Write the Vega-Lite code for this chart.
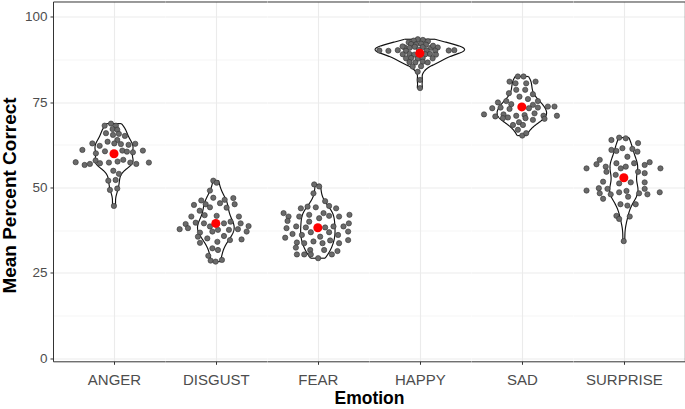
{
  "$schema": "https://vega.github.io/schema/vega-lite/v6.json",
  "autosize": {"type": "pad"},
  "padding": {"left": 0, "top": 1.5, "right": 0, "bottom": 0},
  "background": "white",
  "data": {"values": [
    {"emotion":"ANGER","score":68.1,"jitter":-0.092},{"emotion":"ANGER","score":68.7,"jitter":-0.030},{"emotion":"ANGER","score":68.1,"jitter":0.019},{"emotion":"ANGER","score":67.1,"jitter":-0.014},{"emotion":"ANGER","score":66.9,"jitter":0.032},{"emotion":"ANGER","score":65.9,"jitter":-0.079},{"emotion":"ANGER","score":65.4,"jitter":-0.010},{"emotion":"ANGER","score":65.7,"jitter":0.048},{"emotion":"ANGER","score":65.1,"jitter":0.107},{"emotion":"ANGER","score":63.9,"jitter":0.032},{"emotion":"ANGER","score":62.9,"jitter":-0.213},{"emotion":"ANGER","score":62.2,"jitter":-0.141},{"emotion":"ANGER","score":63.4,"jitter":-0.063},{"emotion":"ANGER","score":62.9,"jitter":0.003},{"emotion":"ANGER","score":62.7,"jitter":0.068},{"emotion":"ANGER","score":62.5,"jitter":0.143},{"emotion":"ANGER","score":62.8,"jitter":0.209},{"emotion":"ANGER","score":61.0,"jitter":-0.311},{"emotion":"ANGER","score":60.0,"jitter":-0.178},{"emotion":"ANGER","score":60.6,"jitter":-0.089},{"emotion":"ANGER","score":60.8,"jitter":0.082},{"emotion":"ANGER","score":60.5,"jitter":0.127},{"emotion":"ANGER","score":60.3,"jitter":0.186},{"emotion":"ANGER","score":60.8,"jitter":0.284},{"emotion":"ANGER","score":57.4,"jitter":-0.377},{"emotion":"ANGER","score":56.6,"jitter":-0.289},{"emotion":"ANGER","score":56.9,"jitter":-0.237},{"emotion":"ANGER","score":57.9,"jitter":-0.181},{"emotion":"ANGER","score":57.1,"jitter":-0.138},{"emotion":"ANGER","score":57.3,"jitter":-0.050},{"emotion":"ANGER","score":57.6,"jitter":0.035},{"emotion":"ANGER","score":58.1,"jitter":0.091},{"emotion":"ANGER","score":57.3,"jitter":0.160},{"emotion":"ANGER","score":56.9,"jitter":0.219},{"emotion":"ANGER","score":57.3,"jitter":0.343},{"emotion":"ANGER","score":54.9,"jitter":-0.007},{"emotion":"ANGER","score":54.0,"jitter":0.048},{"emotion":"ANGER","score":52.0,"jitter":-0.056},{"emotion":"ANGER","score":52.2,"jitter":0.016},{"emotion":"ANGER","score":49.3,"jitter":-0.040},{"emotion":"ANGER","score":49.7,"jitter":0.032},{"emotion":"ANGER","score":44.6,"jitter":-0.001},
    {"emotion":"DISGUST","score":52.0,"jitter":-0.025},{"emotion":"DISGUST","score":51.4,"jitter":0.008},{"emotion":"DISGUST","score":49.1,"jitter":-0.058},{"emotion":"DISGUST","score":44.9,"jitter":-0.215},{"emotion":"DISGUST","score":46.2,"jitter":-0.143},{"emotion":"DISGUST","score":45.1,"jitter":-0.100},{"emotion":"DISGUST","score":47.0,"jitter":-0.025},{"emotion":"DISGUST","score":45.4,"jitter":0.041},{"emotion":"DISGUST","score":46.4,"jitter":0.087},{"emotion":"DISGUST","score":46.9,"jitter":0.172},{"emotion":"DISGUST","score":45.1,"jitter":0.185},{"emotion":"DISGUST","score":44.2,"jitter":-0.058},{"emotion":"DISGUST","score":44.1,"jitter":0.106},{"emotion":"DISGUST","score":43.2,"jitter":-0.159},{"emotion":"DISGUST","score":41.9,"jitter":-0.110},{"emotion":"DISGUST","score":41.7,"jitter":0.008},{"emotion":"DISGUST","score":41.5,"jitter":-0.241},{"emotion":"DISGUST","score":41.5,"jitter":0.227},{"emotion":"DISGUST","score":39.3,"jitter":-0.297},{"emotion":"DISGUST","score":39.7,"jitter":-0.198},{"emotion":"DISGUST","score":39.5,"jitter":-0.117},{"emotion":"DISGUST","score":38.6,"jitter":-0.058},{"emotion":"DISGUST","score":39.5,"jitter":0.080},{"emotion":"DISGUST","score":40.0,"jitter":0.145},{"emotion":"DISGUST","score":39.5,"jitter":0.244},{"emotion":"DISGUST","score":38.7,"jitter":0.322},{"emotion":"DISGUST","score":37.8,"jitter":-0.356},{"emotion":"DISGUST","score":38.1,"jitter":-0.274},{"emotion":"DISGUST","score":36.8,"jitter":-0.156},{"emotion":"DISGUST","score":37.1,"jitter":-0.034},{"emotion":"DISGUST","score":37.6,"jitter":0.021},{"emotion":"DISGUST","score":37.6,"jitter":0.129},{"emotion":"DISGUST","score":37.8,"jitter":0.217},{"emotion":"DISGUST","score":37.1,"jitter":0.303},{"emotion":"DISGUST","score":35.6,"jitter":-0.176},{"emotion":"DISGUST","score":35.1,"jitter":-0.084},{"emotion":"DISGUST","score":35.8,"jitter":0.080},{"emotion":"DISGUST","score":34.6,"jitter":0.139},{"emotion":"DISGUST","score":34.8,"jitter":0.253},{"emotion":"DISGUST","score":33.8,"jitter":-0.156},{"emotion":"DISGUST","score":34.1,"jitter":0.015},{"emotion":"DISGUST","score":32.2,"jitter":-0.034},{"emotion":"DISGUST","score":31.7,"jitter":0.021},{"emotion":"DISGUST","score":30.0,"jitter":-0.074},{"emotion":"DISGUST","score":28.6,"jitter":-0.051},{"emotion":"DISGUST","score":28.3,"jitter":-0.002},{"emotion":"DISGUST","score":28.8,"jitter":0.060},
    {"emotion":"FEAR","score":50.9,"jitter":-0.036},{"emotion":"FEAR","score":50.3,"jitter":0.013},{"emotion":"FEAR","score":48.3,"jitter":-0.043},{"emotion":"FEAR","score":46.0,"jitter":0.072},{"emotion":"FEAR","score":43.9,"jitter":-0.167},{"emotion":"FEAR","score":44.4,"jitter":-0.101},{"emotion":"FEAR","score":44.2,"jitter":-0.020},{"emotion":"FEAR","score":44.6,"jitter":0.111},{"emotion":"FEAR","score":43.9,"jitter":0.180},{"emotion":"FEAR","score":42.5,"jitter":-0.337},{"emotion":"FEAR","score":41.5,"jitter":-0.288},{"emotion":"FEAR","score":41.5,"jitter":-0.183},{"emotion":"FEAR","score":42.0,"jitter":-0.085},{"emotion":"FEAR","score":42.5,"jitter":0.056},{"emotion":"FEAR","score":41.7,"jitter":0.111},{"emotion":"FEAR","score":41.5,"jitter":0.209},{"emotion":"FEAR","score":42.0,"jitter":0.311},{"emotion":"FEAR","score":40.2,"jitter":-0.298},{"emotion":"FEAR","score":41.0,"jitter":0.013},{"emotion":"FEAR","score":40.0,"jitter":-0.085},{"emotion":"FEAR","score":39.5,"jitter":0.305},{"emotion":"FEAR","score":38.1,"jitter":-0.308},{"emotion":"FEAR","score":38.6,"jitter":-0.213},{"emotion":"FEAR","score":38.3,"jitter":-0.118},{"emotion":"FEAR","score":38.3,"jitter":0.072},{"emotion":"FEAR","score":38.6,"jitter":0.154},{"emotion":"FEAR","score":38.6,"jitter":0.252},{"emotion":"FEAR","score":37.1,"jitter":0.298},{"emotion":"FEAR","score":36.4,"jitter":-0.249},{"emotion":"FEAR","score":36.1,"jitter":-0.157},{"emotion":"FEAR","score":36.9,"jitter":-0.069},{"emotion":"FEAR","score":35.6,"jitter":0.023},{"emotion":"FEAR","score":36.9,"jitter":0.111},{"emotion":"FEAR","score":36.1,"jitter":0.199},{"emotion":"FEAR","score":35.3,"jitter":-0.321},{"emotion":"FEAR","score":33.9,"jitter":-0.206},{"emotion":"FEAR","score":33.7,"jitter":-0.134},{"emotion":"FEAR","score":34.2,"jitter":-0.043},{"emotion":"FEAR","score":33.7,"jitter":0.046},{"emotion":"FEAR","score":34.5,"jitter":0.121},{"emotion":"FEAR","score":33.7,"jitter":0.209},{"emotion":"FEAR","score":34.6,"jitter":0.298},{"emotion":"FEAR","score":32.4,"jitter":-0.216},{"emotion":"FEAR","score":31.7,"jitter":-0.075},{"emotion":"FEAR","score":31.7,"jitter":0.062},{"emotion":"FEAR","score":31.4,"jitter":0.193},{"emotion":"FEAR","score":30.4,"jitter":-0.206},{"emotion":"FEAR","score":30.4,"jitter":-0.134},{"emotion":"FEAR","score":30.4,"jitter":-0.069},{"emotion":"FEAR","score":30.4,"jitter":0.138},{"emotion":"FEAR","score":29.3,"jitter":0.003},
    {"emotion":"HAPPY","score":93.4,"jitter":-0.02},{"emotion":"HAPPY","score":93.2,"jitter":0.03},{"emotion":"HAPPY","score":93.0,"jitter":-0.06},{"emotion":"HAPPY","score":92.8,"jitter":0.08},{"emotion":"HAPPY","score":92.5,"jitter":-0.11},{"emotion":"HAPPY","score":92.0,"jitter":-0.086},{"emotion":"HAPPY","score":91.9,"jitter":-0.037},{"emotion":"HAPPY","score":92.1,"jitter":0.012},{"emotion":"HAPPY","score":91.8,"jitter":0.061},{"emotion":"HAPPY","score":91.0,"jitter":-0.149},{"emotion":"HAPPY","score":90.9,"jitter":-0.100},{"emotion":"HAPPY","score":91.1,"jitter":0.028},{"emotion":"HAPPY","score":90.9,"jitter":0.110},{"emotion":"HAPPY","score":91.0,"jitter":0.176},{"emotion":"HAPPY","score":91.2,"jitter":-0.05},{"emotion":"HAPPY","score":91.5,"jitter":0.13},{"emotion":"HAPPY","score":91.3,"jitter":-0.17},{"emotion":"HAPPY","score":90.1,"jitter":-0.398},{"emotion":"HAPPY","score":90.0,"jitter":-0.309},{"emotion":"HAPPY","score":90.2,"jitter":-0.217},{"emotion":"HAPPY","score":90.0,"jitter":-0.136},{"emotion":"HAPPY","score":90.1,"jitter":0.068},{"emotion":"HAPPY","score":90.0,"jitter":0.152},{"emotion":"HAPPY","score":90.1,"jitter":0.284},{"emotion":"HAPPY","score":90.2,"jitter":0.339},{"emotion":"HAPPY","score":90.3,"jitter":-0.01},{"emotion":"HAPPY","score":89.0,"jitter":-0.168},{"emotion":"HAPPY","score":89.1,"jitter":-0.102},{"emotion":"HAPPY","score":88.9,"jitter":-0.054},{"emotion":"HAPPY","score":89.0,"jitter":0.054},{"emotion":"HAPPY","score":89.1,"jitter":0.100},{"emotion":"HAPPY","score":88.9,"jitter":0.159},{"emotion":"HAPPY","score":89.2,"jitter":0.01},{"emotion":"HAPPY","score":87.8,"jitter":-0.136},{"emotion":"HAPPY","score":87.9,"jitter":-0.086},{"emotion":"HAPPY","score":87.7,"jitter":-0.021},{"emotion":"HAPPY","score":87.9,"jitter":0.028},{"emotion":"HAPPY","score":87.8,"jitter":0.126},{"emotion":"HAPPY","score":86.7,"jitter":-0.102},{"emotion":"HAPPY","score":86.6,"jitter":-0.044},{"emotion":"HAPPY","score":86.8,"jitter":0.028},{"emotion":"HAPPY","score":86.6,"jitter":0.077},{"emotion":"HAPPY","score":85.4,"jitter":-0.070},{"emotion":"HAPPY","score":85.5,"jitter":0.012},{"emotion":"HAPPY","score":83.9,"jitter":-0.021},{"emotion":"HAPPY","score":81.5,"jitter":0.002},{"emotion":"HAPPY","score":79.1,"jitter":0.002},
    {"emotion":"SAD","score":82.5,"jitter":-0.039},{"emotion":"SAD","score":82.5,"jitter":0.017},{"emotion":"SAD","score":81.0,"jitter":-0.121},{"emotion":"SAD","score":80.5,"jitter":-0.062},{"emotion":"SAD","score":80.5,"jitter":0.043},{"emotion":"SAD","score":81.0,"jitter":0.135},{"emotion":"SAD","score":78.6,"jitter":-0.055},{"emotion":"SAD","score":78.6,"jitter":0.033},{"emotion":"SAD","score":77.6,"jitter":-0.127},{"emotion":"SAD","score":77.3,"jitter":0.109},{"emotion":"SAD","score":76.6,"jitter":-0.023},{"emotion":"SAD","score":75.9,"jitter":0.060},{"emotion":"SAD","score":75.3,"jitter":0.158},{"emotion":"SAD","score":74.9,"jitter":-0.235},{"emotion":"SAD","score":75.3,"jitter":-0.153},{"emotion":"SAD","score":74.4,"jitter":-0.104},{"emotion":"SAD","score":74.2,"jitter":0.109},{"emotion":"SAD","score":73.2,"jitter":-0.291},{"emotion":"SAD","score":73.4,"jitter":-0.209},{"emotion":"SAD","score":73.0,"jitter":-0.121},{"emotion":"SAD","score":73.2,"jitter":0.070},{"emotion":"SAD","score":73.4,"jitter":0.158},{"emotion":"SAD","score":73.7,"jitter":0.256},{"emotion":"SAD","score":73.7,"jitter":0.321},{"emotion":"SAD","score":71.4,"jitter":-0.372},{"emotion":"SAD","score":70.8,"jitter":-0.261},{"emotion":"SAD","score":71.4,"jitter":-0.180},{"emotion":"SAD","score":70.5,"jitter":-0.137},{"emotion":"SAD","score":71.0,"jitter":-0.055},{"emotion":"SAD","score":71.2,"jitter":0.027},{"emotion":"SAD","score":71.7,"jitter":0.125},{"emotion":"SAD","score":71.0,"jitter":0.213},{"emotion":"SAD","score":71.0,"jitter":0.345},{"emotion":"SAD","score":70.3,"jitter":-0.186},{"emotion":"SAD","score":69.1,"jitter":-0.028},{"emotion":"SAD","score":70.3,"jitter":0.036},{"emotion":"SAD","score":69.8,"jitter":0.109},{"emotion":"SAD","score":70.1,"jitter":0.223},{"emotion":"SAD","score":68.3,"jitter":-0.087},{"emotion":"SAD","score":68.3,"jitter":0.011},{"emotion":"SAD","score":66.9,"jitter":-0.039},{"emotion":"SAD","score":65.2,"jitter":0.004},{"emotion":"SAD","score":65.9,"jitter":0.043},
    {"emotion":"SURPRISE","score":63.9,"jitter":-0.122},{"emotion":"SURPRISE","score":64.6,"jitter":-0.046},{"emotion":"SURPRISE","score":64.4,"jitter":0.019},{"emotion":"SURPRISE","score":63.0,"jitter":0.140},{"emotion":"SURPRISE","score":61.0,"jitter":-0.122},{"emotion":"SURPRISE","score":60.7,"jitter":-0.073},{"emotion":"SURPRISE","score":61.5,"jitter":-0.014},{"emotion":"SURPRISE","score":61.3,"jitter":0.084},{"emotion":"SURPRISE","score":60.5,"jitter":0.134},{"emotion":"SURPRISE","score":59.0,"jitter":0.035},{"emotion":"SURPRISE","score":58.1,"jitter":-0.237},{"emotion":"SURPRISE","score":56.8,"jitter":-0.269},{"emotion":"SURPRISE","score":56.1,"jitter":-0.178},{"emotion":"SURPRISE","score":57.1,"jitter":-0.073},{"emotion":"SURPRISE","score":56.1,"jitter":0.019},{"emotion":"SURPRISE","score":57.1,"jitter":0.101},{"emotion":"SURPRISE","score":56.6,"jitter":0.205},{"emotion":"SURPRISE","score":57.4,"jitter":0.254},{"emotion":"SURPRISE","score":55.6,"jitter":-0.367},{"emotion":"SURPRISE","score":55.6,"jitter":0.360},{"emotion":"SURPRISE","score":54.6,"jitter":-0.171},{"emotion":"SURPRISE","score":55.6,"jitter":-0.030},{"emotion":"SURPRISE","score":54.6,"jitter":0.140},{"emotion":"SURPRISE","score":54.2,"jitter":0.205},{"emotion":"SURPRISE","score":53.7,"jitter":-0.080},{"emotion":"SURPRISE","score":51.2,"jitter":-0.046},{"emotion":"SURPRISE","score":51.5,"jitter":0.068},{"emotion":"SURPRISE","score":51.5,"jitter":0.205},{"emotion":"SURPRISE","score":51.7,"jitter":-0.204},{"emotion":"SURPRISE","score":49.1,"jitter":-0.367},{"emotion":"SURPRISE","score":49.8,"jitter":-0.246},{"emotion":"SURPRISE","score":49.6,"jitter":-0.161},{"emotion":"SURPRISE","score":48.3,"jitter":-0.237},{"emotion":"SURPRISE","score":48.0,"jitter":-0.129},{"emotion":"SURPRISE","score":48.6,"jitter":-0.046},{"emotion":"SURPRISE","score":49.0,"jitter":0.026},{"emotion":"SURPRISE","score":47.3,"jitter":0.042},{"emotion":"SURPRISE","score":48.3,"jitter":0.150},{"emotion":"SURPRISE","score":49.6,"jitter":0.205},{"emotion":"SURPRISE","score":48.0,"jitter":0.232},{"emotion":"SURPRISE","score":48.6,"jitter":0.353},{"emotion":"SURPRISE","score":46.7,"jitter":-0.204},{"emotion":"SURPRISE","score":45.1,"jitter":-0.033},{"emotion":"SURPRISE","score":44.7,"jitter":0.035},{"emotion":"SURPRISE","score":45.1,"jitter":0.117},{"emotion":"SURPRISE","score":41.7,"jitter":-0.073},{"emotion":"SURPRISE","score":41.5,"jitter":0.058},{"emotion":"SURPRISE","score":40.8,"jitter":-0.046},{"emotion":"SURPRISE","score":34.3,"jitter":-0.001}
  ]},
  "spacing": 0,
  "bounds": "flush",
  "hconcat": [
    {
      "width": 111.845, "height": 359.8,
      "transform": [{"filter": {"field": "emotion", "equal": "ANGER"}}],
      "encoding": {"y": {"field": "score", "type": "quantitative", "scale": {"domain": [-0.88, 104.45], "nice": false, "zero": false},
        "axis": {"values": [0,12.5,25,37.5,50,62.5,75,87.5,100], "labelExpr": "datum.value % 25 === 0 ? format(datum.value, 'd') : ''", "labelFlush": false, "title": "Mean Percent Correct", "titleY": 193.5, "grid": true, "gridColor": "#EBEBEB", "gridWidth": {"condition": {"test": "datum.value % 25 === 0", "value": 1.1}, "value": 0.55}, "domain": true, "domainColor": "#333333", "domainWidth": 1, "ticks": true, "tickColor": "#333333", "tickSize": 3, "tickWidth": 1, "tickOpacity": {"condition": {"test": "datum.value % 25 === 0", "value": 1}, "value": 0}, "labelFont": "Liberation Sans", "labelFontSize": 13.5, "labelColor": "#4D4D4D", "labelPadding": 3, "titleFont": "Liberation Sans", "titleFontSize": 19, "titleFontWeight": "bold", "titleColor": "#000000", "titlePadding": 5}}},
      "resolve": {"scale": {"x": "independent"}},
      "layer": [
        {
          "transform": [{"density": "score", "bandwidth": 1.8, "steps": 200, "as": ["score", "density"]}],
          "resolve": {"scale": {"x": "independent"}},
          "layer": [
            {
              "encoding": {"x": {"field": "density", "type": "quantitative", "stack": null, "scale": {"domain": [-0.2214, 0.1845], "nice": false, "zero": false}, "axis": {"orient": "top", "labels": false, "ticks": false, "grid": false, "domain": true, "domainColor": "#333333", "domainWidth": 1, "title": null}}},
              "layer": [
                {"mark": {"type": "area", "orient": "horizontal", "fill": "white"}, "encoding": {"x2": {"datum": 0}}},
                {"mark": {"type": "line", "stroke": "#111111", "strokeWidth": 1.15}, "encoding": {"order": {"field": "score", "type": "quantitative"}}},
                {"transform": [{"joinaggregate": [{"op": "min", "field": "score", "as": "smin"}, {"op": "max", "field": "score", "as": "smax"}]}, {"filter": "datum.score === datum.smin || datum.score === datum.smax"}], "mark": {"type": "rule", "stroke": "#111111", "strokeWidth": 1.15}, "encoding": {"x2": {"datum": 0}}}
              ]
            },
            {
              "encoding": {"x": {"field": "density", "type": "quantitative", "stack": null, "scale": {"domain": [-0.1845, 0.2214], "reverse": true, "nice": false, "zero": false}, "axis": null}},
              "layer": [
                {"mark": {"type": "area", "orient": "horizontal", "fill": "white"}, "encoding": {"x2": {"datum": 0}}},
                {"mark": {"type": "line", "stroke": "#111111", "strokeWidth": 1.15}, "encoding": {"order": {"field": "score", "type": "quantitative"}}},
                {"transform": [{"joinaggregate": [{"op": "min", "field": "score", "as": "smin"}, {"op": "max", "field": "score", "as": "smax"}]}, {"filter": "datum.score === datum.smin || datum.score === datum.smax"}], "mark": {"type": "rule", "stroke": "#111111", "strokeWidth": 1.15}, "encoding": {"x2": {"datum": 0}}}
              ]
            }
          ]
        },
        {
          "encoding": {"x": {"field": "jitter", "type": "quantitative", "scale": {"domain": [-0.6, 0.5], "nice": false, "zero": false},
            "axis": {"orient": "bottom", "values": [0], "grid": true, "gridColor": "#EBEBEB", "gridWidth": 1.1, "domain": true, "domainColor": "#333333", "domainWidth": 1, "ticks": true, "tickColor": "#333333", "tickSize": 3, "tickWidth": 1, "labelExpr": "'ANGER'", "labelFlush": false, "labelFont": "Liberation Sans", "labelFontSize": 15, "labelColor": "#4D4D4D", "labelPadding": 8.5, "title": null}}},
          "layer": [
            {"mark": {"type": "point", "filled": true, "fill": "#6A6A6A", "stroke": "#333333", "strokeWidth": 0.6, "size": 28, "opacity": 1}},
            {"transform": [{"aggregate": [{"op": "mean", "field": "score", "as": "score"}, {"op": "missing", "field": "score", "as": "zero"}]}], "mark": {"type": "point", "filled": true, "fill": "#FF0000", "size": 82, "opacity": 1}, "encoding": {"x": {"field": "zero", "type": "quantitative"}}}
          ]
        }
      ]
    },
    {
      "width": 101.677, "height": 359.8,
      "transform": [{"filter": {"field": "emotion", "equal": "DISGUST"}}],
      "encoding": {"y": {"field": "score", "type": "quantitative", "scale": {"domain": [-0.88, 104.45], "nice": false, "zero": false},
        "axis": {"values": [0,12.5,25,37.5,50,62.5,75,87.5,100], "labels": false, "ticks": false, "domain": false, "title": null, "grid": true, "gridColor": "#EBEBEB", "gridWidth": {"condition": {"test": "datum.value % 25 === 0", "value": 1.1}, "value": 0.55}}}},
      "resolve": {"scale": {"x": "independent"}},
      "layer": [
        {
          "transform": [{"density": "score", "bandwidth": 2.5, "steps": 200, "as": ["score", "density"]}],
          "resolve": {"scale": {"x": "independent"}},
          "layer": [
            {
              "encoding": {"x": {"field": "density", "type": "quantitative", "stack": null, "scale": {"domain": [-0.1845, 0.1845], "nice": false, "zero": false}, "axis": {"orient": "top", "labels": false, "ticks": false, "grid": false, "domain": true, "domainColor": "#333333", "domainWidth": 1, "title": null}}},
              "layer": [
                {"mark": {"type": "area", "orient": "horizontal", "fill": "white"}, "encoding": {"x2": {"datum": 0}}},
                {"mark": {"type": "line", "stroke": "#111111", "strokeWidth": 1.15}, "encoding": {"order": {"field": "score", "type": "quantitative"}}},
                {"transform": [{"joinaggregate": [{"op": "min", "field": "score", "as": "smin"}, {"op": "max", "field": "score", "as": "smax"}]}, {"filter": "datum.score === datum.smin || datum.score === datum.smax"}], "mark": {"type": "rule", "stroke": "#111111", "strokeWidth": 1.15}, "encoding": {"x2": {"datum": 0}}}
              ]
            },
            {
              "encoding": {"x": {"field": "density", "type": "quantitative", "stack": null, "scale": {"domain": [-0.1845, 0.1845], "reverse": true, "nice": false, "zero": false}, "axis": null}},
              "layer": [
                {"mark": {"type": "area", "orient": "horizontal", "fill": "white"}, "encoding": {"x2": {"datum": 0}}},
                {"mark": {"type": "line", "stroke": "#111111", "strokeWidth": 1.15}, "encoding": {"order": {"field": "score", "type": "quantitative"}}},
                {"transform": [{"joinaggregate": [{"op": "min", "field": "score", "as": "smin"}, {"op": "max", "field": "score", "as": "smax"}]}, {"filter": "datum.score === datum.smin || datum.score === datum.smax"}], "mark": {"type": "rule", "stroke": "#111111", "strokeWidth": 1.15}, "encoding": {"x2": {"datum": 0}}}
              ]
            }
          ]
        },
        {
          "encoding": {"x": {"field": "jitter", "type": "quantitative", "scale": {"domain": [-0.5, 0.5], "nice": false, "zero": false},
            "axis": {"orient": "bottom", "values": [0], "grid": true, "gridColor": "#EBEBEB", "gridWidth": 1.1, "domain": true, "domainColor": "#333333", "domainWidth": 1, "ticks": true, "tickColor": "#333333", "tickSize": 3, "tickWidth": 1, "labelExpr": "'DISGUST'", "labelFlush": false, "labelFont": "Liberation Sans", "labelFontSize": 15, "labelColor": "#4D4D4D", "labelPadding": 8.5, "title": null}}},
          "layer": [
            {"mark": {"type": "point", "filled": true, "fill": "#6A6A6A", "stroke": "#333333", "strokeWidth": 0.6, "size": 28, "opacity": 1}},
            {"transform": [{"aggregate": [{"op": "mean", "field": "score", "as": "score"}, {"op": "missing", "field": "score", "as": "zero"}]}], "mark": {"type": "point", "filled": true, "fill": "#FF0000", "size": 82, "opacity": 1}, "encoding": {"x": {"field": "zero", "type": "quantitative"}}}
          ]
        }
      ]
    },
    {
      "width": 101.677, "height": 359.8,
      "transform": [{"filter": {"field": "emotion", "equal": "FEAR"}}],
      "encoding": {"y": {"field": "score", "type": "quantitative", "scale": {"domain": [-0.88, 104.45], "nice": false, "zero": false},
        "axis": {"values": [0,12.5,25,37.5,50,62.5,75,87.5,100], "labels": false, "ticks": false, "domain": false, "title": null, "grid": true, "gridColor": "#EBEBEB", "gridWidth": {"condition": {"test": "datum.value % 25 === 0", "value": 1.1}, "value": 0.55}}}},
      "resolve": {"scale": {"x": "independent"}},
      "layer": [
        {
          "transform": [{"density": "score", "bandwidth": 2.3, "steps": 200, "as": ["score", "density"]}],
          "resolve": {"scale": {"x": "independent"}},
          "layer": [
            {
              "encoding": {"x": {"field": "density", "type": "quantitative", "stack": null, "scale": {"domain": [-0.1845, 0.1845], "nice": false, "zero": false}, "axis": {"orient": "top", "labels": false, "ticks": false, "grid": false, "domain": true, "domainColor": "#333333", "domainWidth": 1, "title": null}}},
              "layer": [
                {"mark": {"type": "area", "orient": "horizontal", "fill": "white"}, "encoding": {"x2": {"datum": 0}}},
                {"mark": {"type": "line", "stroke": "#111111", "strokeWidth": 1.15}, "encoding": {"order": {"field": "score", "type": "quantitative"}}},
                {"transform": [{"joinaggregate": [{"op": "min", "field": "score", "as": "smin"}, {"op": "max", "field": "score", "as": "smax"}]}, {"filter": "datum.score === datum.smin || datum.score === datum.smax"}], "mark": {"type": "rule", "stroke": "#111111", "strokeWidth": 1.15}, "encoding": {"x2": {"datum": 0}}}
              ]
            },
            {
              "encoding": {"x": {"field": "density", "type": "quantitative", "stack": null, "scale": {"domain": [-0.1845, 0.1845], "reverse": true, "nice": false, "zero": false}, "axis": null}},
              "layer": [
                {"mark": {"type": "area", "orient": "horizontal", "fill": "white"}, "encoding": {"x2": {"datum": 0}}},
                {"mark": {"type": "line", "stroke": "#111111", "strokeWidth": 1.15}, "encoding": {"order": {"field": "score", "type": "quantitative"}}},
                {"transform": [{"joinaggregate": [{"op": "min", "field": "score", "as": "smin"}, {"op": "max", "field": "score", "as": "smax"}]}, {"filter": "datum.score === datum.smin || datum.score === datum.smax"}], "mark": {"type": "rule", "stroke": "#111111", "strokeWidth": 1.15}, "encoding": {"x2": {"datum": 0}}}
              ]
            }
          ]
        },
        {
          "encoding": {"x": {"field": "jitter", "type": "quantitative", "scale": {"domain": [-0.5, 0.5], "nice": false, "zero": false},
            "axis": {"orient": "bottom", "values": [0], "grid": true, "gridColor": "#EBEBEB", "gridWidth": 1.1, "domain": true, "domainColor": "#333333", "domainWidth": 1, "ticks": true, "tickColor": "#333333", "tickSize": 3, "tickWidth": 1, "labelExpr": "'FEAR'", "labelFlush": false, "labelFont": "Liberation Sans", "labelFontSize": 15, "labelColor": "#4D4D4D", "labelPadding": 8.5, "title": null}}},
          "layer": [
            {"mark": {"type": "point", "filled": true, "fill": "#6A6A6A", "stroke": "#333333", "strokeWidth": 0.6, "size": 28, "opacity": 1}},
            {"transform": [{"aggregate": [{"op": "mean", "field": "score", "as": "score"}, {"op": "missing", "field": "score", "as": "zero"}]}], "mark": {"type": "point", "filled": true, "fill": "#FF0000", "size": 82, "opacity": 1}, "encoding": {"x": {"field": "zero", "type": "quantitative"}}}
          ]
        }
      ]
    },
    {
      "width": 101.677, "height": 359.8,
      "transform": [{"filter": {"field": "emotion", "equal": "HAPPY"}}],
      "encoding": {"y": {"field": "score", "type": "quantitative", "scale": {"domain": [-0.88, 104.45], "nice": false, "zero": false},
        "axis": {"values": [0,12.5,25,37.5,50,62.5,75,87.5,100], "labels": false, "ticks": false, "domain": false, "title": null, "grid": true, "gridColor": "#EBEBEB", "gridWidth": {"condition": {"test": "datum.value % 25 === 0", "value": 1.1}, "value": 0.55}}}},
      "resolve": {"scale": {"x": "independent"}},
      "layer": [
        {
          "transform": [{"density": "score", "bandwidth": 1.0, "steps": 200, "as": ["score", "density"]}],
          "resolve": {"scale": {"x": "independent"}},
          "layer": [
            {
              "encoding": {"x": {"field": "density", "type": "quantitative", "stack": null, "scale": {"domain": [-0.1845, 0.1845], "nice": false, "zero": false}, "axis": {"orient": "top", "labels": false, "ticks": false, "grid": false, "domain": true, "domainColor": "#333333", "domainWidth": 1, "title": null}}},
              "layer": [
                {"mark": {"type": "area", "orient": "horizontal", "fill": "white"}, "encoding": {"x2": {"datum": 0}}},
                {"mark": {"type": "line", "stroke": "#111111", "strokeWidth": 1.15}, "encoding": {"order": {"field": "score", "type": "quantitative"}}},
                {"transform": [{"joinaggregate": [{"op": "min", "field": "score", "as": "smin"}, {"op": "max", "field": "score", "as": "smax"}]}, {"filter": "datum.score === datum.smin || datum.score === datum.smax"}], "mark": {"type": "rule", "stroke": "#111111", "strokeWidth": 1.15}, "encoding": {"x2": {"datum": 0}}}
              ]
            },
            {
              "encoding": {"x": {"field": "density", "type": "quantitative", "stack": null, "scale": {"domain": [-0.1845, 0.1845], "reverse": true, "nice": false, "zero": false}, "axis": null}},
              "layer": [
                {"mark": {"type": "area", "orient": "horizontal", "fill": "white"}, "encoding": {"x2": {"datum": 0}}},
                {"mark": {"type": "line", "stroke": "#111111", "strokeWidth": 1.15}, "encoding": {"order": {"field": "score", "type": "quantitative"}}},
                {"transform": [{"joinaggregate": [{"op": "min", "field": "score", "as": "smin"}, {"op": "max", "field": "score", "as": "smax"}]}, {"filter": "datum.score === datum.smin || datum.score === datum.smax"}], "mark": {"type": "rule", "stroke": "#111111", "strokeWidth": 1.15}, "encoding": {"x2": {"datum": 0}}}
              ]
            }
          ]
        },
        {
          "encoding": {"x": {"field": "jitter", "type": "quantitative", "scale": {"domain": [-0.5, 0.5], "nice": false, "zero": false},
            "axis": {"orient": "bottom", "values": [0], "grid": true, "gridColor": "#EBEBEB", "gridWidth": 1.1, "domain": true, "domainColor": "#333333", "domainWidth": 1, "ticks": true, "tickColor": "#333333", "tickSize": 3, "tickWidth": 1, "labelExpr": "'HAPPY'", "labelFlush": false, "labelFont": "Liberation Sans", "labelFontSize": 15, "labelColor": "#4D4D4D", "labelPadding": 8.5, "title": "Emotion", "titleX": 0, "titleAlign": "center", "titleFont": "Liberation Sans", "titleFontSize": 17.5, "titleFontWeight": "bold", "titleColor": "#000000", "titlePadding": 2}}},
          "layer": [
            {"mark": {"type": "point", "filled": true, "fill": "#6A6A6A", "stroke": "#333333", "strokeWidth": 0.6, "size": 28, "opacity": 1}},
            {"transform": [{"aggregate": [{"op": "mean", "field": "score", "as": "score"}, {"op": "missing", "field": "score", "as": "zero"}]}], "mark": {"type": "point", "filled": true, "fill": "#FF0000", "size": 82, "opacity": 1}, "encoding": {"x": {"field": "zero", "type": "quantitative"}}}
          ]
        }
      ]
    },
    {
      "width": 101.677, "height": 359.8,
      "transform": [{"filter": {"field": "emotion", "equal": "SAD"}}],
      "encoding": {"y": {"field": "score", "type": "quantitative", "scale": {"domain": [-0.88, 104.45], "nice": false, "zero": false},
        "axis": {"values": [0,12.5,25,37.5,50,62.5,75,87.5,100], "labels": false, "ticks": false, "domain": false, "title": null, "grid": true, "gridColor": "#EBEBEB", "gridWidth": {"condition": {"test": "datum.value % 25 === 0", "value": 1.1}, "value": 0.55}}}},
      "resolve": {"scale": {"x": "independent"}},
      "layer": [
        {
          "transform": [{"density": "score", "bandwidth": 1.9, "steps": 200, "as": ["score", "density"]}],
          "resolve": {"scale": {"x": "independent"}},
          "layer": [
            {
              "encoding": {"x": {"field": "density", "type": "quantitative", "stack": null, "scale": {"domain": [-0.1845, 0.1845], "nice": false, "zero": false}, "axis": {"orient": "top", "labels": false, "ticks": false, "grid": false, "domain": true, "domainColor": "#333333", "domainWidth": 1, "title": null}}},
              "layer": [
                {"mark": {"type": "area", "orient": "horizontal", "fill": "white"}, "encoding": {"x2": {"datum": 0}}},
                {"mark": {"type": "line", "stroke": "#111111", "strokeWidth": 1.15}, "encoding": {"order": {"field": "score", "type": "quantitative"}}},
                {"transform": [{"joinaggregate": [{"op": "min", "field": "score", "as": "smin"}, {"op": "max", "field": "score", "as": "smax"}]}, {"filter": "datum.score === datum.smin || datum.score === datum.smax"}], "mark": {"type": "rule", "stroke": "#111111", "strokeWidth": 1.15}, "encoding": {"x2": {"datum": 0}}}
              ]
            },
            {
              "encoding": {"x": {"field": "density", "type": "quantitative", "stack": null, "scale": {"domain": [-0.1845, 0.1845], "reverse": true, "nice": false, "zero": false}, "axis": null}},
              "layer": [
                {"mark": {"type": "area", "orient": "horizontal", "fill": "white"}, "encoding": {"x2": {"datum": 0}}},
                {"mark": {"type": "line", "stroke": "#111111", "strokeWidth": 1.15}, "encoding": {"order": {"field": "score", "type": "quantitative"}}},
                {"transform": [{"joinaggregate": [{"op": "min", "field": "score", "as": "smin"}, {"op": "max", "field": "score", "as": "smax"}]}, {"filter": "datum.score === datum.smin || datum.score === datum.smax"}], "mark": {"type": "rule", "stroke": "#111111", "strokeWidth": 1.15}, "encoding": {"x2": {"datum": 0}}}
              ]
            }
          ]
        },
        {
          "encoding": {"x": {"field": "jitter", "type": "quantitative", "scale": {"domain": [-0.5, 0.5], "nice": false, "zero": false},
            "axis": {"orient": "bottom", "values": [0], "grid": true, "gridColor": "#EBEBEB", "gridWidth": 1.1, "domain": true, "domainColor": "#333333", "domainWidth": 1, "ticks": true, "tickColor": "#333333", "tickSize": 3, "tickWidth": 1, "labelExpr": "'SAD'", "labelFlush": false, "labelFont": "Liberation Sans", "labelFontSize": 15, "labelColor": "#4D4D4D", "labelPadding": 8.5, "title": null}}},
          "layer": [
            {"mark": {"type": "point", "filled": true, "fill": "#6A6A6A", "stroke": "#333333", "strokeWidth": 0.6, "size": 28, "opacity": 1}},
            {"transform": [{"aggregate": [{"op": "mean", "field": "score", "as": "score"}, {"op": "missing", "field": "score", "as": "zero"}]}], "mark": {"type": "point", "filled": true, "fill": "#FF0000", "size": 82, "opacity": 1}, "encoding": {"x": {"field": "zero", "type": "quantitative"}}}
          ]
        }
      ]
    },
    {
      "width": 111.845, "height": 359.8,
      "transform": [{"filter": {"field": "emotion", "equal": "SURPRISE"}}],
      "encoding": {"y": {"field": "score", "type": "quantitative", "scale": {"domain": [-0.88, 104.45], "nice": false, "zero": false},
        "axis": {"values": [0,12.5,25,37.5,50,62.5,75,87.5,100], "labels": false, "ticks": false, "domain": false, "title": null, "grid": true, "gridColor": "#EBEBEB", "gridWidth": {"condition": {"test": "datum.value % 25 === 0", "value": 1.1}, "value": 0.55}}}},
      "resolve": {"scale": {"x": "independent", "y": "independent"}},
      "layer": [
        {
          "transform": [{"density": "score", "bandwidth": 2.6, "steps": 200, "as": ["score", "density"]}],
          "encoding": {"y": {"field": "score", "type": "quantitative", "scale": {"domain": [-0.88, 104.45], "nice": false, "zero": false}, "axis": {"orient": "right", "labels": false, "ticks": false, "grid": false, "domain": true, "domainColor": "#333333", "domainWidth": 1, "title": null}}},
          "resolve": {"scale": {"x": "independent"}},
          "layer": [
            {
              "encoding": {"x": {"field": "density", "type": "quantitative", "stack": null, "scale": {"domain": [-0.1845, 0.2214], "nice": false, "zero": false}, "axis": {"orient": "top", "labels": false, "ticks": false, "grid": false, "domain": true, "domainColor": "#333333", "domainWidth": 1, "title": null}}},
              "layer": [
                {"mark": {"type": "area", "orient": "horizontal", "fill": "white"}, "encoding": {"x2": {"datum": 0}}},
                {"mark": {"type": "line", "stroke": "#111111", "strokeWidth": 1.15}, "encoding": {"order": {"field": "score", "type": "quantitative"}}},
                {"transform": [{"joinaggregate": [{"op": "min", "field": "score", "as": "smin"}, {"op": "max", "field": "score", "as": "smax"}]}, {"filter": "datum.score === datum.smin || datum.score === datum.smax"}], "mark": {"type": "rule", "stroke": "#111111", "strokeWidth": 1.15}, "encoding": {"x2": {"datum": 0}}}
              ]
            },
            {
              "encoding": {"x": {"field": "density", "type": "quantitative", "stack": null, "scale": {"domain": [-0.2214, 0.1845], "reverse": true, "nice": false, "zero": false}, "axis": null}},
              "layer": [
                {"mark": {"type": "area", "orient": "horizontal", "fill": "white"}, "encoding": {"x2": {"datum": 0}}},
                {"mark": {"type": "line", "stroke": "#111111", "strokeWidth": 1.15}, "encoding": {"order": {"field": "score", "type": "quantitative"}}},
                {"transform": [{"joinaggregate": [{"op": "min", "field": "score", "as": "smin"}, {"op": "max", "field": "score", "as": "smax"}]}, {"filter": "datum.score === datum.smin || datum.score === datum.smax"}], "mark": {"type": "rule", "stroke": "#111111", "strokeWidth": 1.15}, "encoding": {"x2": {"datum": 0}}}
              ]
            }
          ]
        },
        {
          "encoding": {"x": {"field": "jitter", "type": "quantitative", "scale": {"domain": [-0.5, 0.6], "nice": false, "zero": false},
            "axis": {"orient": "bottom", "values": [0], "grid": true, "gridColor": "#EBEBEB", "gridWidth": 1.1, "domain": true, "domainColor": "#333333", "domainWidth": 1, "ticks": true, "tickColor": "#333333", "tickSize": 3, "tickWidth": 1, "labelExpr": "'SURPRISE'", "labelFlush": false, "labelFont": "Liberation Sans", "labelFontSize": 15, "labelColor": "#4D4D4D", "labelPadding": 8.5, "title": null}}},
          "layer": [
            {"mark": {"type": "point", "filled": true, "fill": "#6A6A6A", "stroke": "#333333", "strokeWidth": 0.6, "size": 28, "opacity": 1}},
            {"transform": [{"aggregate": [{"op": "mean", "field": "score", "as": "score"}, {"op": "missing", "field": "score", "as": "zero"}]}], "mark": {"type": "point", "filled": true, "fill": "#FF0000", "size": 82, "opacity": 1}, "encoding": {"x": {"field": "zero", "type": "quantitative"}}}
          ]
        }
      ]
    }
  ],
  "config": {"view": {"stroke": null}, "font": "Liberation Sans"}
}
